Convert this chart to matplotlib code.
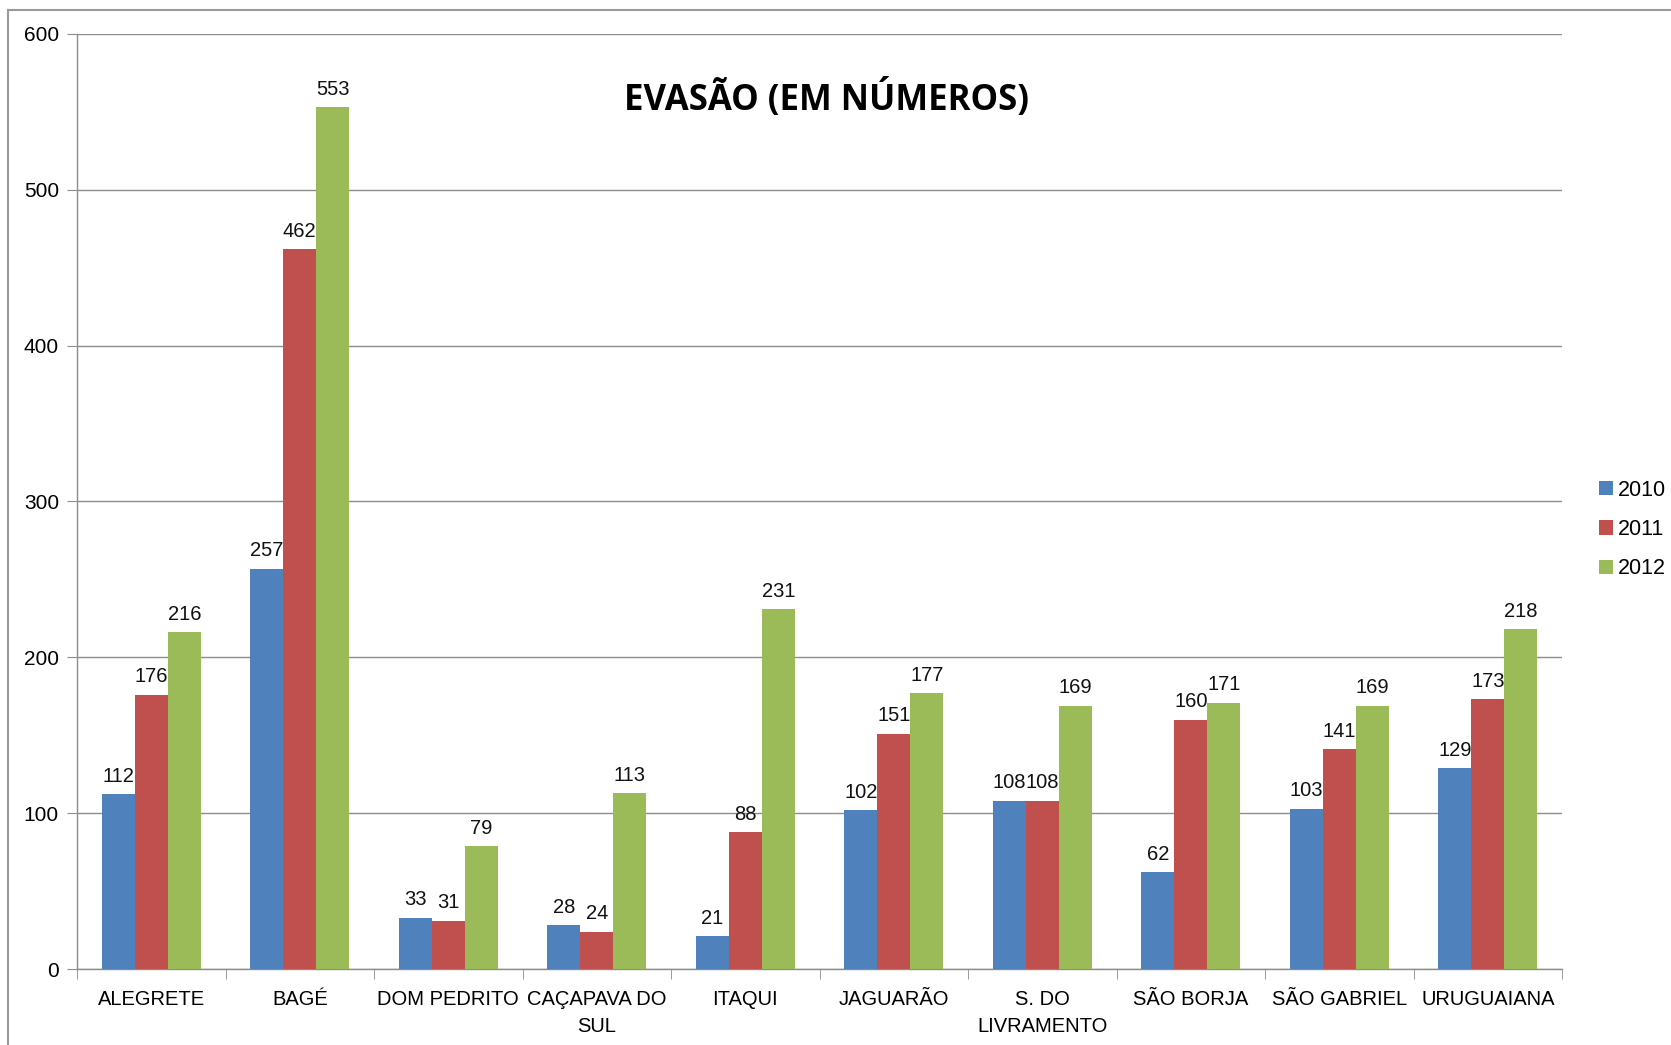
import matplotlib
matplotlib.use("Agg")
import matplotlib.pyplot as plt
import numpy as np
from matplotlib.lines import Line2D

categories = ["ALEGRETE", "BAGÉ", "DOM PEDRITO", "CAÇAPAVA DO\nSUL", "ITAQUI",
              "JAGUARÃO", "S. DO\nLIVRAMENTO", "SÃO BORJA", "SÃO GABRIEL", "URUGUAIANA"]
series_names = ["2010", "2011", "2012"]
v2010 = [112, 257, 33, 28, 21, 102, 108, 62, 103, 129]
v2011 = [176, 462, 31, 24, 88, 151, 108, 160, 141, 173]
v2012 = [216, 553, 79, 113, 231, 177, 169, 171, 169, 218]
yticks = [0, 100, 200, 300, 400, 500, 600]
title = "EVASÃO (EM NÚMEROS)"

colors = ["#4F81BD", "#C0504D", "#9BBB59"]
plt.rcParams['font.family'] = ['Liberation Sans', 'DejaVu Sans']

fig = plt.figure(figsize=(16.71, 10.45), dpi=100)
ax = fig.add_axes([0.0461, 0.0727, 0.8887, 0.8948])

x = np.arange(len(categories))
w = 1 / 4.5
for i, (vals, c, name) in enumerate(zip([v2010, v2011, v2012], colors, series_names)):
    bars = ax.bar(x + (i - 1) * w, vals, width=w, color=c, label=name, zorder=3)
    for b, v in zip(bars, vals):
        ax.annotate(str(v), (b.get_x() + b.get_width() / 2, v), xytext=(0, 6),
                    textcoords="offset points", ha="center", va="bottom",
                    fontsize=14.5, color="#111111")

ax.set_xlim(-0.5, len(categories) - 0.5)
ax.set_ylim(0, 600)
ax.set_yticks(yticks)
ax.set_yticklabels([str(t) for t in yticks], fontsize=15)
ax.yaxis.grid(True, color="#8c8c8c", linewidth=1.0, zorder=0)
ax.set_axisbelow(True)

ax.set_xticks(x)
ax.set_xticklabels(categories, fontsize=14.5, linespacing=1.55)
ax.tick_params(axis='x', length=0, pad=15)
ax.set_xticks(np.arange(-0.5, len(categories), 1), minor=True)
ax.tick_params(axis='x', which='minor', length=7, color="#8c8c8c")
ax.tick_params(axis='y', length=7, color="#8c8c8c", pad=6)

for s in ["top", "right"]:
    ax.spines[s].set_visible(False)
for s in ["left", "bottom"]:
    ax.spines[s].set_color("#8c8c8c")
    ax.spines[s].set_linewidth(1.0)

ax.text(0.505, 0.93, title, transform=ax.transAxes, ha="center", va="center",
        fontsize=25, fontweight="bold", family=['Open Sans', 'DejaVu Sans'])

leg = ax.legend(loc="center left", bbox_to_anchor=(1.019, 0.47), frameon=False,
                fontsize=15.5, handlelength=0.65, handleheight=0.65, handletextpad=0.25,
                labelspacing=0.85, borderaxespad=0)

# outer chart frame
fig.add_artist(Line2D([0.0048, 0.0048], [0.0, 0.9904], transform=fig.transFigure,
                      color="#9a9a9a", linewidth=1.5))
fig.add_artist(Line2D([0.0048, 1.0], [0.9904, 0.9904], transform=fig.transFigure,
                      color="#9a9a9a", linewidth=1.5))

fig.savefig("out.png", dpi=100)
